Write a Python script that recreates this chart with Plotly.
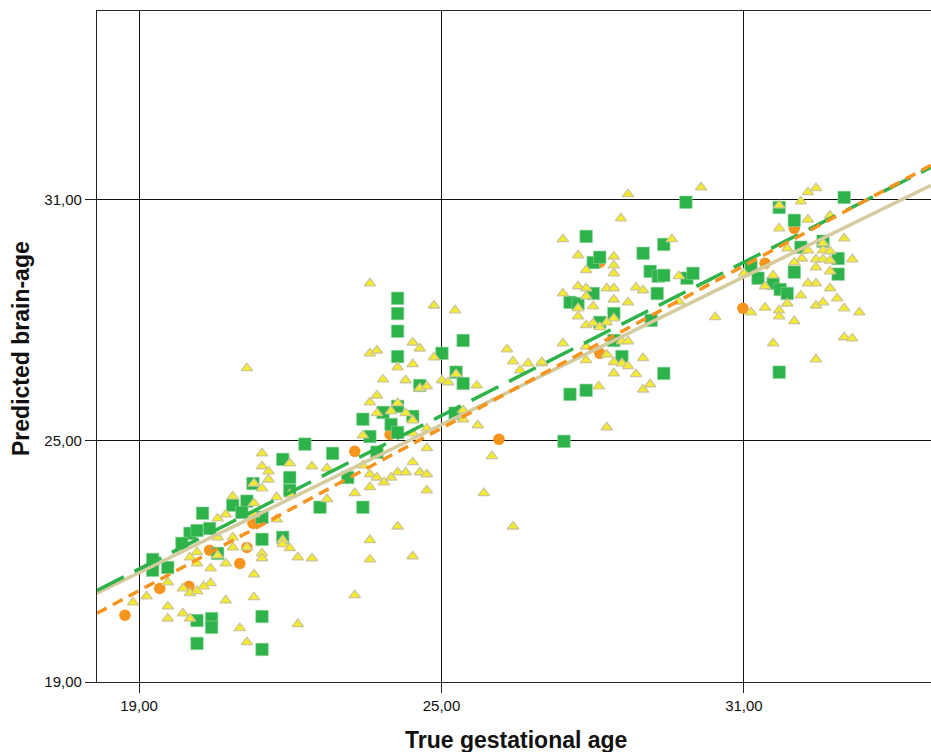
import plotly.graph_objects as go

# ---------------- data ----------------
# Group A (green squares)
sq_x = [22.29, 22.84, 21.85, 21.99, 21.99, 22.59, 20.86, 21.14, 21.04, 20.26, 21.26, 20.01, 20.15, 19.85,
        20.40, 21.44, 21.44, 21.85, 19.27, 19.27, 19.57, 20.56, 20.15, 20.44, 20.44, 21.44, 20.15, 21.44,
        24.13, 24.13, 24.13, 24.13, 25.43, 25.01, 25.29, 25.43, 24.57, 27.55, 27.55, 23.44, 23.84, 24.13,
        24.43, 24.00, 24.13, 23.58, 25.27, 23.72, 23.14, 23.44, 27.43,
        29.85, 27.87, 29.41, 28.01, 28.14, 29.00, 29.14, 29.30, 29.41, 29.87, 29.99, 29.28, 28.01, 27.71,
        28.42, 28.14, 29.16, 28.42, 28.58, 29.41, 27.87,
        32.99, 31.70, 32.00, 32.13, 32.57, 32.87, 32.87, 31.14, 31.28, 32.00, 31.58, 31.72, 31.86, 31.70]
sq_y = [24.92, 24.69, 24.54, 24.09, 23.77, 23.35, 23.40, 23.50, 23.22, 23.20, 23.94, 22.70, 22.77, 22.45,
        22.82, 23.10, 22.55, 22.60, 22.05, 21.78, 21.85, 22.20, 20.53, 20.58, 20.36, 20.63, 19.96, 19.81,
        28.55, 28.17, 27.73, 27.10, 27.50, 27.18, 26.71, 26.43, 26.38, 28.45, 26.16, 25.54, 25.71, 25.86,
        25.61, 25.41, 25.21, 25.11, 25.69, 24.72, 24.09, 23.35, 24.99,
        30.94, 30.09, 29.89, 29.44, 29.57, 29.67, 29.22, 29.10, 29.12, 29.05, 29.17, 28.67, 28.67, 28.42,
        28.17, 27.95, 28.00, 27.50, 27.10, 26.68, 26.26,
        31.06, 30.81, 30.49, 29.82, 29.97, 29.54, 29.15, 29.32, 29.05, 29.20, 28.92, 28.77, 28.67, 26.71]

# Group B (orange circles)
ci_x = [18.72, 19.41, 19.99, 21.00, 21.14, 20.40, 21.26, 23.28, 23.98, 26.14, 28.14, 28.14, 32.00, 31.42, 30.98]
ci_y = [20.66, 21.33, 21.38, 21.95, 22.35, 22.28, 22.95, 24.74, 25.16, 25.04, 27.18, 29.44, 30.29, 29.42, 28.30]

# Group C (yellow triangles)
tr_x = [21.44, 21.99, 21.44, 22.43, 22.73, 21.57, 21.57, 21.28, 21.44, 20.86, 21.99, 22.73, 21.28, 21.73,
        20.56, 20.72, 21.28, 21.73, 20.01, 20.15, 20.56, 20.86, 20.86, 21.14, 20.56, 20.72, 21.44, 21.44,
        21.85, 21.85, 21.99, 22.15, 22.43, 20.42, 20.15, 19.57, 21.28, 20.42, 20.28, 19.87, 20.01, 20.15,
        19.15, 18.88, 19.57, 19.57, 19.87, 20.01, 20.72, 21.28, 22.15, 21.00, 21.14, 21.14,
        23.58, 24.85, 25.27, 27.41, 24.43, 24.57, 23.58, 23.72, 24.85, 24.43, 24.13, 26.30, 26.42, 26.72,
        26.99, 26.56, 23.84, 24.29, 25.01, 25.13, 25.29, 25.70, 24.57, 24.71, 23.72, 23.58, 24.13, 23.72,
        24.00, 24.29, 24.43, 25.43, 25.43, 24.43, 23.44, 25.72, 24.71, 24.71, 23.44, 23.58, 23.72, 23.86,
        24.00, 24.13, 24.29, 24.43, 24.57, 24.71, 23.58, 23.28, 24.71, 25.84, 26.00, 24.13, 26.42, 23.58,
        23.58, 24.43, 23.28,
        28.70, 30.15, 28.56, 27.41, 29.57, 27.71, 28.42, 28.42, 28.42, 27.87, 29.71, 27.71, 27.87, 28.28,
        28.42, 28.86, 29.00, 28.42, 28.70, 27.87, 27.71, 27.71, 28.01, 28.42, 27.87, 28.01, 28.14, 28.28,
        29.71, 30.43, 27.41, 27.87, 28.58, 28.70, 28.28, 29.00, 28.42, 28.58, 28.70, 27.87, 26.99, 28.42,
        28.86, 28.12, 29.00, 29.14, 28.28,
        32.27, 32.43, 32.13, 31.70, 32.27, 31.70, 32.71, 32.99, 31.86, 32.27, 32.57, 32.57, 32.71, 32.15,
        32.00, 32.43, 32.57, 32.71, 33.15, 32.43, 32.71, 31.58, 31.00, 31.42, 32.27, 32.43, 32.71, 32.13,
        32.85, 31.86, 32.43, 32.57, 31.42, 31.70, 31.70, 32.99, 33.29, 31.14, 32.00, 31.58, 32.99, 33.15,
        32.43]
tr_y = [24.69, 24.44, 24.37, 24.37, 24.32, 24.24, 24.04, 23.94, 23.82, 23.62, 23.67, 23.55, 23.45, 23.60,
        23.07, 23.17, 23.17, 23.05, 22.10, 22.23, 22.60, 22.60, 22.35, 22.35, 22.15, 21.95, 22.20, 22.08,
        22.53, 22.43, 22.33, 22.10, 22.08, 21.83, 21.95, 21.48, 21.68, 21.46, 21.38, 21.33, 21.21, 21.26,
        21.13, 20.98, 20.88, 20.58, 20.71, 20.58, 21.03, 21.11, 20.44, 20.34, 19.99, 26.81,
        28.92, 28.37, 28.25, 28.67, 27.45, 27.30, 27.18, 27.25, 27.08, 26.91, 26.83, 27.28, 26.98, 26.93,
        26.93, 26.76, 26.53, 26.51, 26.51, 26.46, 26.66, 26.38, 26.31, 26.36, 26.13, 25.96, 25.94, 25.69,
        25.74, 25.69, 25.51, 25.76, 25.54, 25.19, 25.14, 25.39, 25.31, 24.82, 24.39, 24.17, 24.09, 23.97,
        24.09, 24.22, 24.22, 24.47, 24.22, 24.17, 23.85, 23.70, 23.77, 23.70, 24.62, 22.87, 22.87, 22.53,
        22.05, 22.13, 21.16,
        31.14, 31.31, 30.54, 30.02, 30.02, 29.62, 29.59, 29.37, 29.17, 29.25, 29.10, 28.85, 28.80, 28.80,
        28.80, 28.82, 28.75, 28.52, 28.45, 28.60, 28.30, 28.10, 28.35, 28.05, 27.88, 27.93, 27.83, 27.95,
        28.47, 28.08, 27.43, 27.35, 27.48, 27.48, 27.15, 27.06, 26.96, 26.93, 26.86, 27.01, 26.96, 26.68,
        26.66, 26.36, 26.28, 26.41, 25.34,
        31.19, 31.29, 30.96, 30.86, 30.51, 30.29, 30.61, 30.04, 29.79, 29.74, 29.92, 29.74, 29.72, 29.54,
        29.44, 29.52, 29.52, 29.49, 29.52, 29.32, 29.22, 29.12, 29.17, 28.85, 28.92, 28.92, 28.80, 28.62,
        28.55, 28.42, 28.37, 28.45, 28.32, 28.25, 28.10, 28.30, 28.20, 28.20, 27.98, 27.43, 27.58, 27.55,
        27.03]

# Fit lines (endpoints across the x range)
fit_x = [18.166, 34.712]
fit_sq_y = [21.28, 31.81]
fit_ci_y = [20.71, 31.86]
fit_tr_y = [21.21, 31.36]

x_ticks = [19, 25, 31]
y_ticks = [19, 25, 31]

# ---------------- figure ----------------
GREEN = "#2DB34A"
ORANGE = "#F7941E"
YELLOW = "#F2EC2C"
TAN = "#D4CB9E"

fig = go.Figure()

fig.add_trace(go.Scatter(x=ci_x, y=ci_y, mode="markers",
                         marker=dict(symbol="circle", size=11.5, color=ORANGE, line=dict(width=0))))
fig.add_trace(go.Scatter(x=sq_x, y=sq_y, mode="markers",
                         marker=dict(symbol="square", size=12.5, color=GREEN,
                                     line=dict(width=0.6, color="#8fd49b"))))
fig.add_trace(go.Scatter(x=tr_x, y=tr_y, mode="markers",
                         marker=dict(symbol="triangle-up", size=10, color=YELLOW,
                                     line=dict(width=1.3, color="#CFC596"))))

fig.add_trace(go.Scatter(x=fit_x, y=fit_tr_y, mode="lines",
                         line=dict(color=TAN, width=3.5)))
fig.add_trace(go.Scatter(x=fit_x, y=fit_sq_y, mode="lines",
                         line=dict(color=GREEN, width=3.5, dash="30px,12px")))
fig.add_trace(go.Scatter(x=fit_x, y=fit_ci_y, mode="lines",
                         line=dict(color=ORANGE, width=3.5, dash="11px,7px")))

fig.update_layout(
    width=931, height=752,
    margin=dict(l=97, r=0, t=11, b=70),
    paper_bgcolor="white", plot_bgcolor="white",
    showlegend=False,
    separators=",.",
    font=dict(family="Liberation Sans, Arial, sans-serif", color="#111111"),
    xaxis=dict(range=[18.166, 34.712], tickvals=x_ticks, tickformat=".2f",
               showgrid=True, gridcolor="#111111", gridwidth=1,
               zeroline=False, showline=True, linecolor="#222222", linewidth=1.3, mirror=True,
               ticks="outside", ticklen=10, tickcolor="#222222", tickwidth=1.3,
               tickfont=dict(size=15, color="#111111")),
    yaxis=dict(range=[19.0, 35.70], tickvals=y_ticks, tickformat=".2f",
               showgrid=True, gridcolor="#111111", gridwidth=1,
               zeroline=False, showline=True, linecolor="#222222", linewidth=1.3, mirror=False,
               ticks="outside", ticklen=11, tickcolor="#222222", tickwidth=1.3,
               tickfont=dict(size=15, color="#111111")),
    annotations=[
        dict(text="<b>True gestational age</b>", xref="paper", yref="paper",
             x=(516 - 97) / 834, y=-(740 - 682) / 671, xanchor="center", yanchor="middle",
             showarrow=False, font=dict(size=23, color="#111111")),
        dict(text="<b>Predicted brain-age</b>", xref="paper", yref="paper",
             x=-(97 - 21) / 834, y=(682 - 349) / 671, xanchor="center", yanchor="middle",
             textangle=-90, showarrow=False, font=dict(size=23, color="#111111")),
    ],
)

fig.write_html("out.html")
